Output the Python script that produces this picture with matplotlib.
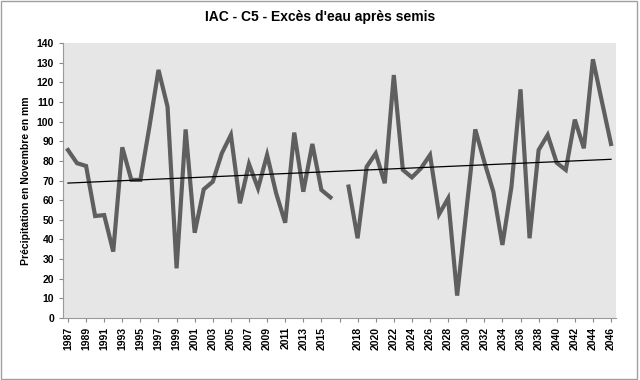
import numpy as np
import matplotlib

matplotlib.use("Agg")
import matplotlib.pyplot as plt
from matplotlib.patches import Rectangle

plt.rcParams["font.family"] = ["Liberation Sans", "DejaVu Sans"]

# Precipitation in November (mm); the series has a break between 2016 and 2017
years_a = list(range(1987, 2017))
precip_a = [85.5, 78.8, 77.4, 51.9, 52.4, 33.8, 86.9, 70.3, 70.3, 97.4,
            126.3, 107.6, 25.3, 96.0, 43.4, 65.5, 69.4, 83.9, 93.2, 58.4,
            78.4, 66.0, 83.0, 63.5, 48.5, 94.4, 64.3, 88.6, 65.2, 61.4]
years_b = list(range(2017, 2047))
precip_b = [66.9, 40.6, 77.0, 83.8, 68.6, 123.7, 75.4, 71.6, 76.2, 83.0,
            52.8, 60.9, 11.4, 54.0, 96.0, 79.5, 64.3, 37.2, 66.9, 116.4,
            40.6, 85.5, 93.2, 79.0, 75.4, 101.0, 86.4, 131.7, 110.0, 88.6]

# category axis: segment A, one empty slot, segment B
labels = [str(y) for y in years_a] + [""] + [str(y) for y in years_b]
idx_a = np.arange(len(years_a))
idx_b = np.arange(len(years_b)) + len(years_a) + 1

fig = plt.figure(figsize=(6.4, 3.8), dpi=100)
ax = fig.add_axes([63 / 640, 1 - 318 / 380, (616 - 63) / 640, (318 - 43) / 380])
ax.set_facecolor("#e6e6e6")

line_kw = dict(color="#5f5f5f", linewidth=3.0, solid_joinstyle="miter")
ax.plot(idx_a, precip_a, **line_kw)
ax.plot(idx_b, precip_b, **line_kw)

# linear trend over all available points
x_all = np.concatenate([idx_a, idx_b])
y_all = np.concatenate([precip_a, precip_b])
slope, intercept = np.polyfit(x_all, y_all, 1)
ax.plot([0, len(labels) - 1], [intercept, intercept + slope * (len(labels) - 1)],
        color="black", linewidth=0.9)

ax.set_xlim(-0.55, len(labels) - 0.45)
ax.set_ylim(0, 140)
ax.set_yticks(range(0, 141, 10))
ax.set_xticks(range(0, len(labels), 2))
ax.set_xticklabels(labels[::2], rotation=90)
ax.tick_params(axis="both", labelsize=7.5, colors="#888888", length=3)
for lbl in ax.get_xticklabels() + ax.get_yticklabels():
    lbl.set_color("black")
    lbl.set_fontweight("bold")

for side in ("top", "right"):
    ax.spines[side].set_visible(False)
for side in ("left", "bottom"):
    ax.spines[side].set_color("#9a9a9a")

ax.set_ylabel("Précipitation en Novembre en mm", fontsize=7.5, fontweight="bold")
fig.text(0.5, 1 - 17 / 380, "IAC - C5 - Excès d'eau après semis",
         ha="center", va="center", fontsize=10, fontweight="bold")

# chart-area border
fig.patches.append(Rectangle((0.002, 0.003), 0.994, 0.994, transform=fig.transFigure,
                             fill=False, edgecolor="#a0a0a0", linewidth=1))

fig.savefig("out.png", dpi=100)
